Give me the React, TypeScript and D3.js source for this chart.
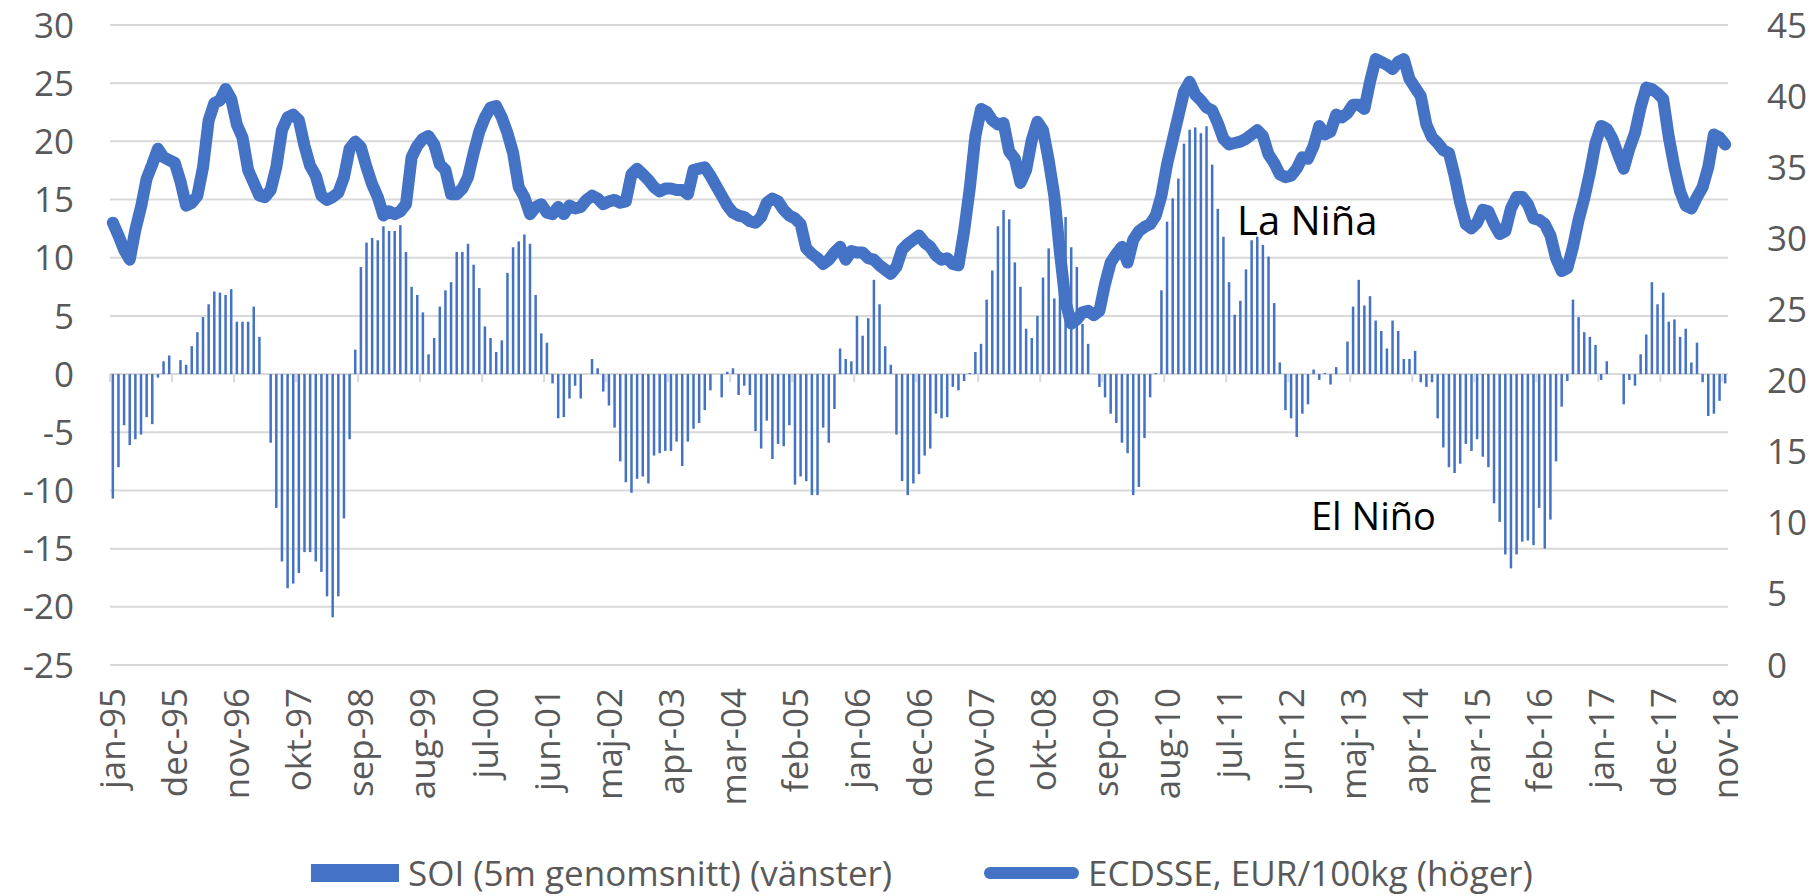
import * as d3 from "d3";

// SOI, 5-month average (left axis), jan-95 .. nov-18, monthly
const soi = [
  -10.7, -8.0, -4.4, -6.1, -5.6, -5.2, -3.7, -4.3, -0.3, 1.1, 1.6, 0,
  1.2, 0.8, 2.4, 3.6, 4.9, 6.0, 7.1, 7.0, 6.8, 7.3, 4.5, 4.5,
  4.5, 5.8, 3.2, 0, -5.9, -11.5, -16.1, -18.4, -18.0, -17.1, -15.3, -15.3,
  -16.1, -17.0, -19.1, -20.9, -19.1, -12.4, -5.6, 2.1, 9.2, 11.3, 11.7, 11.5,
  12.7, 12.3, 12.3, 12.8, 10.5, 7.5, 6.8, 5.3, 1.7, 3.1, 5.8, 7.2,
  7.9, 10.5, 10.5, 11.2, 9.4, 7.4, 4.1, 3.1, 1.9, 2.9, 8.7, 10.9,
  11.4, 12.0, 11.2, 6.8, 3.5, 2.7, -0.8, -3.8, -3.7, -2.1, -1.0, -2.1,
  0, 1.3, 0.5, -1.5, -2.7, -4.6, -7.5, -9.3, -10.2, -9.0, -8.8, -9.4,
  -7.0, -6.8, -6.6, -6.6, -5.8, -7.9, -5.8, -4.7, -4.2, -3.1, -1.4, 0,
  -2.0, 0.2, 0.5, -1.8, -1.0, -1.8, -4.9, -6.4, -4.0, -7.3, -6.0, -6.2,
  -4.4, -9.5, -8.8, -9.2, -10.4, -10.4, -4.6, -5.9, -3.0, 2.2, 1.3, 1.1,
  5.0, 3.3, 4.8, 8.1, 6.0, 2.4, 0.8, -5.2, -9.2, -10.4, -9.4, -8.6,
  -7.0, -6.4, -3.4, -3.8, -3.7, -1.1, -1.4, -0.6, 0.1, 1.9, 2.6, 6.4,
  8.9, 12.7, 14.1, 13.3, 9.6, 7.5, 3.9, 3.1, 5.0, 8.3, 10.8, 6.5,
  13.3, 13.5, 10.9, 9.2, 4.3, 2.6, 0, -1.1, -2.0, -3.4, -4.2, -5.9,
  -6.8, -10.4, -9.7, -5.5, -2.0, 0.1, 7.2, 13.1, 15.1, 16.8, 19.8, 21.0,
  21.2, 20.7, 21.3, 18.0, 14.2, 11.8, 7.9, 5.1, 6.3, 9.0, 11.5, 11.8,
  11.1, 10.1, 6.1, 1.0, -3.1, -3.8, -5.4, -3.4, -2.6, 0.4, -0.5, 0.1,
  -0.9, 0.6, 0, 2.8, 5.8, 8.1, 5.9, 6.7, 4.6, 3.7, 2.2, 4.6,
  3.7, 1.3, 1.3, 2.0, -0.7, -1.1, -0.7, -3.8, -6.3, -8.0, -8.5, -7.7,
  -6.0, -6.6, -5.6, -7.1, -8.0, -11.1, -12.7, -15.5, -16.7, -15.5, -14.4, -14.3,
  -14.7, -11.5, -15.0, -12.5, -7.5, -2.8, -0.6, 6.4, 4.9, 3.6, 3.2, 2.5,
  -0.5, 1.1, 0, 0, -2.6, -0.5, -1.0, 1.7, 3.4, 7.9, 6.0, 7.0,
  4.5, 4.7, 3.2, 3.9, 1.0, 2.7, -0.7, -3.6, -3.4, -2.3, -0.8,
];

// ECDSSE, EUR/100kg (right axis)
const price = [
  31.1, 30.2, 29.2, 28.5, 30.6, 32.2, 34.2, 35.2, 36.3, 35.7, 35.5, 35.3,
  34.0, 32.3, 32.5, 33.0, 35.0, 38.3, 39.5, 39.7, 40.5, 39.8, 38.0, 37.1,
  34.8, 33.9, 33.0, 32.9, 33.4, 35.0, 37.6, 38.5, 38.7, 38.3, 36.5, 35.1,
  34.4, 33.0, 32.7, 32.9, 33.2, 34.3, 36.3, 36.8, 36.4, 35.0, 33.8, 32.9,
  31.6, 31.9, 31.7, 31.9, 32.4, 35.7, 36.5, 37.0, 37.2, 36.6, 35.2, 34.8,
  33.1, 33.1, 33.5, 34.3, 36.0, 37.5, 38.5, 39.2, 39.3, 38.5, 37.4, 36.0,
  33.6, 32.9, 31.7, 32.2, 32.4, 31.8, 31.7, 32.2, 31.7, 32.3, 32.1, 32.2,
  32.7, 33.0, 32.8, 32.4, 32.6, 32.7, 32.5, 32.6, 34.5, 34.9, 34.5, 34.1,
  33.6, 33.3, 33.5, 33.5, 33.4, 33.4, 33.1, 34.8, 34.9, 35.0, 34.4, 33.7,
  33.0, 32.3, 31.8, 31.6, 31.5, 31.2, 31.1, 31.5, 32.5, 32.8, 32.6, 32.0,
  31.6, 31.4, 31.0, 29.3, 28.9, 28.6, 28.2, 28.5, 29.0, 29.4, 28.5, 29.1,
  29.0, 29.0, 28.6, 28.5, 28.1, 27.8, 27.5, 28.0, 29.2, 29.6, 29.9, 30.2,
  29.7, 29.4, 28.8, 28.5, 28.6, 28.2, 28.1, 30.5, 33.5, 37.2, 39.1, 38.9,
  38.3, 38.0, 38.1, 36.1, 35.6, 33.9, 34.8, 36.9, 38.2, 37.6, 35.5, 33.0,
  29.0, 25.5, 24.0, 24.3, 24.8, 24.9, 24.6, 24.9, 26.8, 28.3, 28.9, 29.4,
  28.3, 29.9, 30.5, 30.8, 31.0, 31.6, 33.0, 35.2, 36.9, 38.6, 40.3, 41.0,
  40.1, 39.7, 39.2, 39.0, 38.1, 37.0, 36.6, 36.7, 36.8, 37.0, 37.3, 37.6,
  37.2, 35.9, 35.3, 34.5, 34.3, 34.4, 34.9, 35.7, 35.6, 36.5, 37.9, 37.3,
  37.5, 38.7, 38.5, 38.8, 39.4, 39.4, 39.1, 41.0, 42.6, 42.4, 42.2, 41.9,
  42.4, 42.6, 41.2, 40.6, 40.0, 38.0, 37.1, 36.7, 36.2, 36.0, 34.4, 32.5,
  31.0, 30.7, 31.1, 32.0, 31.9, 31.0, 30.3, 30.5, 32.1, 32.9, 32.9, 32.4,
  31.4, 31.3, 31.0, 30.2, 28.6, 27.7, 27.9, 29.4, 31.3, 32.8, 34.6, 36.7,
  37.9, 37.7, 37.0, 35.9, 34.9, 36.3, 37.4, 39.2, 40.6, 40.5, 40.2, 39.8,
  37.1, 35.0, 33.3, 32.3, 32.1, 32.9, 33.6, 35.0, 37.3, 37.1, 36.6,
];

const monthNames = ["jan", "feb", "mar", "apr", "maj", "jun", "jul", "aug", "sep", "okt", "nov", "dec"];
const months = soi.map((_, i) => {
  const m = i % 12;
  const y = (95 + Math.floor(i / 12)) % 100;
  return monthNames[m] + "-" + String(y).padStart(2, "0");
});

const leftTicks = [-25, -20, -15, -10, -5, 0, 5, 10, 15, 20, 25, 30];
const rightTicks = [0, 5, 10, 15, 20, 25, 30, 35, 40, 45];
const labelEvery = 11;

const blue = "#4472C4";
const grey = "#595959";
const gridColor = "#d9d9d9";
const font = "'Open Sans', 'DejaVu Sans', sans-serif";

export default function App() {
  const width = 1819;
  const height = 896;
  const left = 110;
  const right = 1728;
  const top = 25;
  const bottom = 665;

  const x = d3
    .scaleBand<number>()
    .domain(d3.range(soi.length))
    .range([left, right])
    .paddingInner(0);
  const bw = x.bandwidth();
  const cx = (i: number) => (x(i) as number) + bw / 2;

  const yL = d3.scaleLinear().domain([-25, 30]).range([bottom, top]);
  const yR = d3.scaleLinear().domain([0, 45]).range([bottom, top]);

  const line = d3
    .line<number>()
    .x((_, i) => cx(i))
    .y((d) => yR(d));

  const barW = 2.5;
  const tickIdx = d3.range(0, soi.length + 1, labelEvery);

  return (
    <svg
      width={width}
      height={height}
      style={{ position: "absolute", left: 0, top: 0, background: "#fff" }}
      fontFamily={font}
    >
      {/* gridlines */}
      {leftTicks.map((t) => (
        <line key={"g" + t} x1={left} x2={right} y1={yL(t)} y2={yL(t)} stroke={gridColor} strokeWidth={2} />
      ))}
      {/* category ticks on the zero axis */}
      {tickIdx.map((i) => {
        const xx = left + i * bw;
        return <line key={"t" + i} x1={xx} x2={xx} y1={yL(0)} y2={yL(0) + 8} stroke={gridColor} strokeWidth={2} />;
      })}

      {/* SOI bars */}
      {soi.map((v, i) =>
        v === 0 ? null : (
          <rect
            key={"b" + i}
            x={cx(i) - barW / 2}
            width={barW}
            y={Math.min(yL(v), yL(0))}
            height={Math.abs(yL(v) - yL(0))}
            fill={blue}
          />
        )
      )}

      {/* price line */}
      <path
        d={line(price) as string}
        fill="none"
        stroke={blue}
        strokeWidth={12}
        strokeLinejoin="round"
        strokeLinecap="round"
      />

      {/* left axis */}
      {leftTicks.map((t) => (
        <text key={"l" + t} x={74} y={yL(t)} dy="0.36em" textAnchor="end" fontSize={35} fill={grey}>
          {t}
        </text>
      ))}
      {/* right axis */}
      {rightTicks.map((t) => (
        <text key={"r" + t} x={1767} y={yR(t)} dy="0.36em" textAnchor="start" fontSize={35} fill={grey}>
          {t}
        </text>
      ))}
      {/* category labels */}
      {months.map((m, i) =>
        i % labelEvery === 0 ? (
          <text
            key={"x" + i}
            transform={`translate(${cx(i)},688) rotate(-90)`}
            dy="0.36em"
            textAnchor="end"
            fontSize={35}
            fill={grey}
          >
            {m}
          </text>
        ) : null
      )}

      {/* annotations */}
      <text x={1237} y={235} fontSize={40} fill="#000">
        La Niña
      </text>
      <text x={1311} y={530} fontSize={38} fill="#000">
        El Niño
      </text>

      {/* legend */}
      <rect x={311} y={864} width={88} height={18} fill={blue} />
      <text x={408} y={873} dy="0.36em" fontSize={35} fill={grey}>
        SOI (5m genomsnitt) (vänster)
      </text>
      <line x1={990} x2={1073} y1={873} y2={873} stroke={blue} strokeWidth={12} strokeLinecap="round" />
      <text x={1088} y={873} dy="0.36em" fontSize={35} fill={grey}>
        ECDSSE, EUR/100kg (höger)
      </text>
    </svg>
  );
}
